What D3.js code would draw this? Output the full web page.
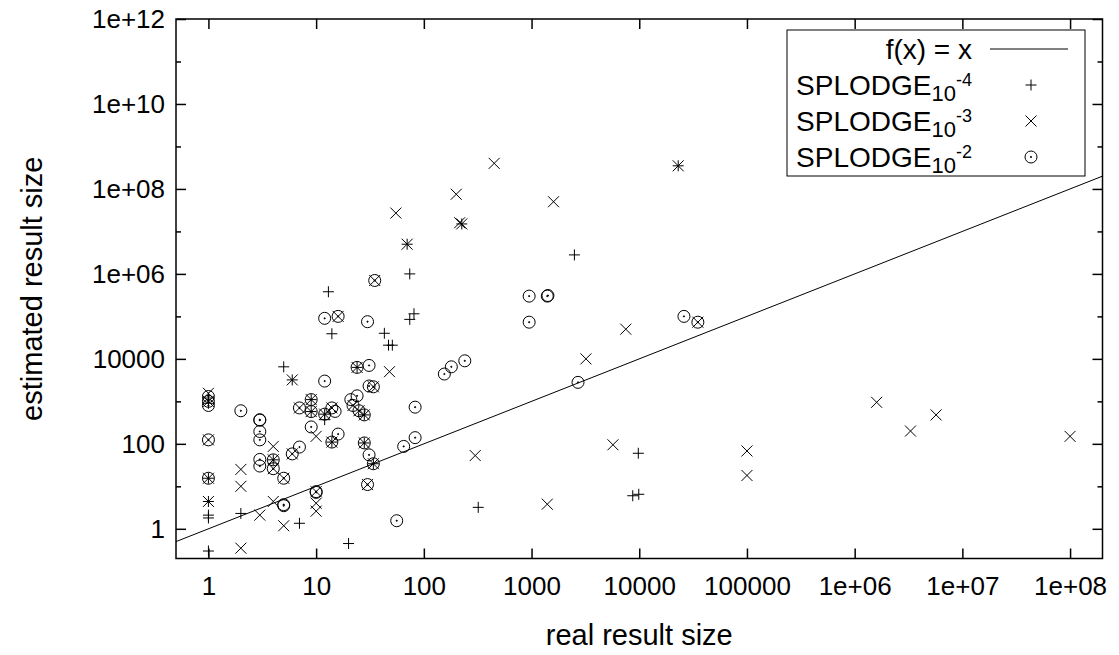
<!DOCTYPE html>
<html>
  <head>
    <meta charset="utf-8">
    <title>real vs estimated result size</title>
    <script src="https://d3js.org/d3.v7.min.js"></script>
    <style>
      body { margin: 0; background: #fff; }
      svg text { font-family: "Liberation Sans", Arial, sans-serif; fill: #000; }
    </style>
  </head>
  <body>
    <script>
      // [real result size, estimated result size]
      var splodge4 = [
        [1, 0.3], [1, 1.8], [1, 2.1], [1, 4.4], [1, 15.5], [1, 1200], [1, 900],
        [2, 2.3], [4, 42], [5, 6500], [6, 3200], [7, 1.35], [9, 1100], [9, 575],
        [12, 500], [12, 370], [13, 3.8e5], [14, 3.9e4], [14, 110], [20, 0.45],
        [24, 6300], [28, 480], [28, 105], [34, 34], [43, 4e4], [47, 2.1e4], [51, 2.1e4],
        [70, 5e6], [74, 1e6], [74, 8.5e4], [81, 1.15e5], [225, 1.5e7], [320, 3.2],
        [2500, 2.8e6], [8700, 6], [9800, 60], [9900, 6.5], [2.3e4, 3.5e8]
      ];
      var splodge3 = [
        [1, 1550], [1, 1000], [1, 124], [1, 15.5], [1, 4.4], [2, 0.35], [2, 10], [2, 25],
        [3, 2.1], [4, 4.4], [4, 87], [4, 42], [4, 26], [5, 1.18], [5, 15.5], [6, 58],
        [6, 3200], [7, 700], [9, 1100], [9, 575], [10, 2.6], [10, 4], [10, 7.5], [10, 150],
        [12, 500], [14, 110], [14, 700], [16, 1e5], [22, 800], [24, 6300], [25, 600],
        [28, 480], [28, 105], [30, 11], [34, 34], [34, 2200], [35, 7e5], [48, 5000],
        [55, 2.7e7], [70, 5e6], [200, 7.5e7], [215, 1.6e7], [225, 1.5e7], [300, 53],
        [450, 4e8], [1400, 3.8], [1600, 5e7], [3200, 1e4], [3.5e4, 7.3e4], [5700, 95],
        [7500, 5e4], [2.3e4, 3.5e8], [1e5, 68], [1e5, 18], [1.6e6, 950], [3.3e6, 200],
        [5.7e6, 480], [1e8, 150]
      ];
      var splodge2 = [
        [1, 1300], [1, 1000], [1, 800], [1, 124], [1, 15.5], [2, 600], [3, 370], [3, 360],
        [3, 195], [3, 124], [3, 43], [3, 30], [4, 42], [4, 26], [5, 15.5], [5, 3.7], [5, 3.5],
        [6, 58], [7, 700], [7, 84], [9, 1100], [9, 575], [9, 250], [10, 7.5], [10, 7.2],
        [12, 9e4], [12, 3000], [12, 500], [14, 110], [14, 700], [15, 580], [16, 1e5],
        [16, 170], [21, 1100], [22, 800], [24, 1350], [24, 6300], [25, 600], [28, 480],
        [28, 105], [30, 7.5e4], [30, 11], [31, 7000], [31, 2300], [31, 55], [34, 34],
        [34, 2200], [35, 7e5], [56, 1.55], [65, 87], [83, 730], [83, 140], [155, 4400],
        [180, 6500], [240, 9000], [950, 3e5], [950, 7.3e4], [1400, 3e5], [1420, 3.1e5],
        [2700, 2800], [2.6e4, 1e5], [3.5e4, 7.3e4]
      ];

      var xTicks = [1, 10, 100, 1e3, 1e4, 1e5, 1e6, 1e7, 1e8];
      var xTickLabels = ["1", "10", "100", "1000", "10000", "100000", "1e+06", "1e+07", "1e+08"];
      var yTicks = [1, 100, 1e4, 1e6, 1e8, 1e10, 1e12];
      var yTickLabels = ["1", "100", "10000", "1e+06", "1e+08", "1e+10", "1e+12"];
      var yMinorTicks = [10, 1e3, 1e5, 1e7, 1e9, 1e11];
      var seriesNames = ["-4", "-3", "-2"];

      var width = 1119, height = 655;
      // plot frame (window.top is reserved, so prefixed names)
      var pLeft = 176, pRight = 1102.5, pTop = 19, pBottom = 558.5;

      var svg = d3.select("body").append("svg")
        .attr("width", width)
        .attr("height", height);

      var x = d3.scaleLog().domain([0.5, 2e8]).range([pLeft, pRight]);
      var y = d3.scaleLog().domain([0.2, 1e12]).range([pBottom, pTop]);

      function fmt(ticks, labels) {
        return function(d) { return labels[ticks.indexOf(d)]; };
      }

      function styleAxis(g) {
        g.select(".domain").remove();
        g.selectAll(".tick line").attr("stroke", "#000").attr("stroke-width", 1.5);
        g.selectAll(".tick text").attr("font-size", 26).attr("fill", "#000");
        g.attr("font-family", null);
      }

      // axes, ticks pointing inwards like gnuplot
      svg.append("g")
        .attr("transform", "translate(0," + pBottom + ")")
        .call(d3.axisBottom(x).tickValues(xTicks).tickFormat(fmt(xTicks, xTickLabels))
          .tickSizeInner(-10).tickSizeOuter(0).tickPadding(18))
        .call(styleAxis);
      svg.append("g")
        .attr("transform", "translate(0," + pTop + ")")
        .call(d3.axisTop(x).tickValues(xTicks).tickFormat("")
          .tickSizeInner(-10).tickSizeOuter(0))
        .call(styleAxis);
      svg.append("g")
        .attr("transform", "translate(" + pLeft + ",0)")
        .call(d3.axisLeft(y).tickValues(yTicks).tickFormat(fmt(yTicks, yTickLabels))
          .tickSizeInner(-10).tickSizeOuter(0).tickPadding(11))
        .call(styleAxis);
      svg.append("g")
        .attr("transform", "translate(" + pLeft + ",0)")
        .call(d3.axisLeft(y).tickValues(yMinorTicks).tickFormat("")
          .tickSizeInner(-5).tickSizeOuter(0))
        .call(styleAxis);
      svg.append("g")
        .attr("transform", "translate(" + pRight + ",0)")
        .call(d3.axisRight(y).tickValues(yTicks).tickFormat("")
          .tickSizeInner(-10).tickSizeOuter(0))
        .call(styleAxis);
      svg.append("g")
        .attr("transform", "translate(" + pRight + ",0)")
        .call(d3.axisRight(y).tickValues(yMinorTicks).tickFormat("")
          .tickSizeInner(-5).tickSizeOuter(0))
        .call(styleAxis);

      svg.append("rect")
        .attr("x", pLeft).attr("y", pTop)
        .attr("width", pRight - pLeft).attr("height", pBottom - pTop)
        .attr("fill", "none").attr("stroke", "#000").attr("stroke-width", 1.5);

      // f(x) = x
      var diag = d3.line().x(function(d) { return x(d); }).y(function(d) { return y(d); });
      svg.append("path")
        .attr("d", diag(x.domain()))
        .attr("fill", "none").attr("stroke", "#000").attr("stroke-width", 1);

      var s = 5.5;
      function plus(g) {
        g.append("path").attr("d", "M" + (-s) + ",0H" + s + "M0," + (-s) + "V" + s);
      }
      function cross(g) {
        g.append("path").attr("d", "M" + (-s) + "," + (-s) + "L" + s + "," + s + "M" + (-s) + "," + s + "L" + s + "," + (-s));
      }
      function circle(g) {
        g.append("circle").attr("r", 6).attr("fill", "none");
        g.append("circle").attr("r", 0.6).attr("fill", "#000");
      }
      var markers = [plus, cross, circle];

      var plot = svg.append("g").attr("stroke", "#000").attr("stroke-width", 1);
      [splodge4, splodge3, splodge2].forEach(function(data, i) {
        plot.append("g").selectAll("g")
          .data(data)
          .join("g")
            .attr("transform", function(d) { return "translate(" + x(d[0]) + "," + y(d[1]) + ")"; })
            .each(function() { markers[i](d3.select(this)); });
      });

      // legend
      var legend = svg.append("g");
      legend.append("rect")
        .attr("x", 787).attr("y", 30).attr("width", 298).attr("height", 146)
        .attr("fill", "#fff").attr("stroke", "#000").attr("stroke-width", 1);
      var rowY = function(i) { return 49 + i * 36; };
      legend.append("text")
        .attr("x", 972).attr("y", rowY(0) + 10)
        .attr("text-anchor", "end").attr("font-size", 28)
        .text("f(x) = x");
      legend.append("line")
        .attr("x1", 990).attr("x2", 1068).attr("y1", rowY(0)).attr("y2", rowY(0))
        .attr("stroke", "#000").attr("stroke-width", 1);
      seriesNames.forEach(function(p, i) {
        var t = legend.append("text")
          .attr("x", 972).attr("y", rowY(i + 1) + 10)
          .attr("text-anchor", "end").attr("font-size", 28);
        t.append("tspan").text("SPLODGE");
        t.append("tspan").attr("font-size", 22).attr("dy", 6).text("10");
        t.append("tspan").attr("font-size", 18).attr("dy", -15).text(p);
        var m = legend.append("g")
          .attr("transform", "translate(1031," + rowY(i + 1) + ")")
          .attr("stroke", "#000").attr("stroke-width", 1);
        markers[i](m);
      });

      svg.append("text")
        .attr("x", (pLeft + pRight) / 2).attr("y", 645)
        .attr("text-anchor", "middle").attr("font-size", 29)
        .text("real result size");
      svg.append("text")
        .attr("transform", "translate(42," + ((pTop + pBottom) / 2) + ") rotate(-90)")
        .attr("text-anchor", "middle").attr("font-size", 29)
        .text("estimated result size");
    </script>
  </body>
</html>
